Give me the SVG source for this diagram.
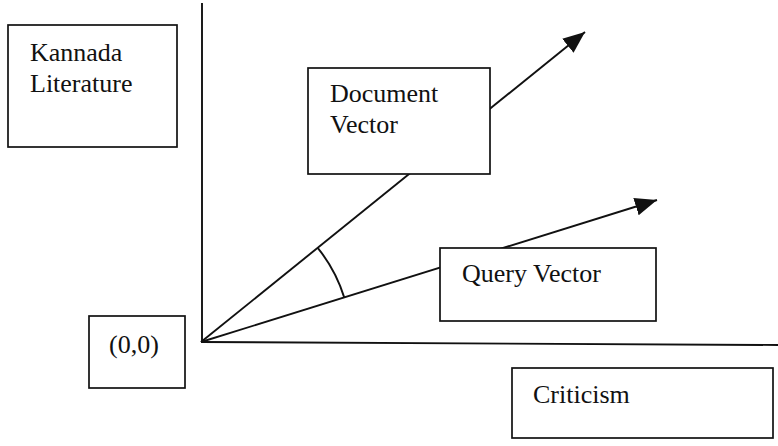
<svg xmlns="http://www.w3.org/2000/svg" width="778" height="446" viewBox="0 0 778 446">
<style>
.box{fill:#fff;stroke:#111;stroke-width:1.7}
.ln{stroke:#111;stroke-width:1.9;fill:none}
text{font-family:"Liberation Serif","Times New Roman",serif;font-size:26px;fill:#111}
</style>
<defs>
<marker id="ah" markerUnits="userSpaceOnUse" markerWidth="24" markerHeight="20" refX="22" refY="9" orient="auto" viewBox="0 0 24 18">
<path d="M0,0 L22,9 L0,18 Z" fill="#111"/>
</marker>
</defs>
<g id="connectors">
<line class="ln" x1="202" y1="3" x2="202" y2="342"/>
<line class="ln" x1="201" y1="342" x2="778" y2="345"/>
<line class="ln" x1="201" y1="342" x2="585" y2="32" marker-end="url(#ah)"/>
<line class="ln" x1="201" y1="342" x2="657" y2="200" marker-end="url(#ah)"/>
<path class="ln" d="M317.7,247.8 A150,150 0 0 1 344.2,297.4"/>
</g>
<g id="kannada">
<rect class="box" x="8" y="25" width="169" height="122"/>
<text x="30" y="61">Kannada</text>
<text x="30" y="92">Literature</text>
</g>
<g id="document">
<rect class="box" x="308" y="68" width="182" height="106"/>
<text x="330" y="102">Document</text>
<text x="330" y="133">Vector</text>
</g>
<g id="query">
<rect class="box" x="440" y="248" width="216" height="73"/>
<text x="462" y="282">Query Vector</text>
</g>
<g id="origin">
<rect class="box" x="89" y="316" width="96" height="72"/>
<text x="109" y="353">(0,0)</text>
</g>
<g id="criticism">
<rect class="box" x="512" y="368" width="261" height="70"/>
<text x="533" y="403">Criticism</text>
</g>
</svg>
